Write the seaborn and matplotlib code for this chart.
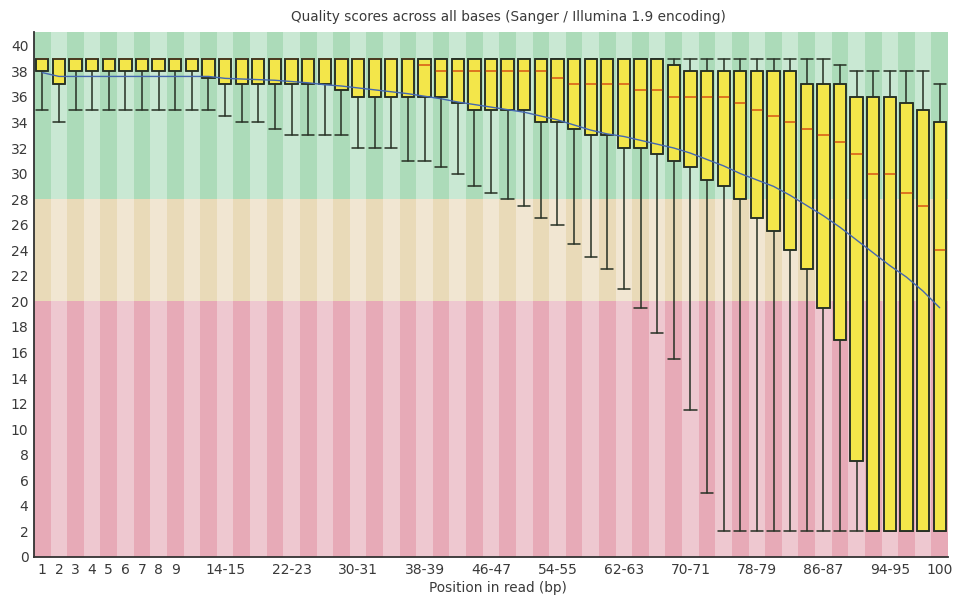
import numpy as np
import matplotlib
matplotlib.use("Agg")
import matplotlib.pyplot as plt
import seaborn as sns

# Read positions: single bases 1-9, then paired bins 10-11 ... 98-99, then 100
groups = [str(i) for i in range(1, 10)] + [f"{s}-{s + 1}" for s in range(10, 100, 2)] + ["100"]

tick_labels = ["1", "2", "3", "4", "5", "6", "7", "8", "9", "14-15", "22-23", "30-31",
               "38-39", "46-47", "54-55", "62-63", "70-71", "78-79", "86-87", "94-95", "100"]

# Phred quality statistics per position
upper_quartile = [39, 39, 39, 39, 39, 39, 39, 39, 39, 39, 39,
                  39, 39, 39, 39, 39, 39, 39, 39, 39, 39, 39,
                  39, 39, 39, 39, 39, 39, 39, 39, 39, 39, 39,
                  39, 39, 39, 39, 39, 38.5, 38, 38, 38, 38, 38,
                  38, 38, 37, 37, 37, 36, 36, 36, 35.5, 35, 34]

lower_quartile = [38, 37, 38, 38, 38, 38, 38, 38, 38, 38, 37.5,
                  37, 37, 37, 37, 37, 37, 37, 36.5, 36, 36, 36,
                  36, 36, 36, 35.5, 35, 35, 35, 35, 34, 34, 33.5,
                  33, 33, 32, 32, 31.5, 31, 30.5, 29.5, 29, 28, 26.5,
                  25.5, 24, 22.5, 19.5, 17, 7.5, 2, 2, 2, 2, 2]

median = [39, 39, 39, 39, 39, 39, 39, 39, 39, 39, 39,
          39, 39, 39, 39, 39, 39, 39, 39, 39, 39, 39,
          39, 38.5, 38, 38, 38, 38, 38, 38, 38, 37.5, 37,
          37, 37, 37, 36.5, 36.5, 36, 36, 36, 36, 35.5, 35,
          34.5, 34, 33.5, 33, 32.5, 31.5, 30, 30, 28.5, 27.5, 24]

percentile_90 = [39, 39, 39, 39, 39, 39, 39, 39, 39, 39, 39,
                 39, 39, 39, 39, 39, 39, 39, 39, 39, 39, 39,
                 39, 39, 39, 39, 39, 39, 39, 39, 39, 39, 39,
                 39, 39, 39, 39, 39, 39, 39, 39, 39, 39, 39,
                 39, 39, 39, 39, 38.5, 38, 38, 38, 38, 38, 37]

percentile_10 = [35, 34, 35, 35, 35, 35, 35, 35, 35, 35, 35,
                 34.5, 34, 34, 33.5, 33, 33, 33, 33, 32, 32, 32,
                 31, 31, 30.5, 30, 29, 28.5, 28, 27.5, 26.5, 26, 24.5,
                 23.5, 22.5, 21, 19.5, 17.5, 15.5, 11.5, 5, 2, 2, 2,
                 2, 2, 2, 2, 2, 2, 2, 2, 2, 2, 2]

mean_quality = [37.9, 37.6, 37.6, 37.6, 37.6, 37.6, 37.6, 37.6, 37.6, 37.6, 37.6,
                37.45, 37.4, 37.35, 37.3, 37.2, 37.1, 36.95, 36.85, 36.7, 36.55, 36.4,
                36.25, 36.05, 35.85, 35.6, 35.4, 35.2, 35.0, 34.8, 34.5, 34.2, 33.8,
                33.4, 33.1, 32.9, 32.6, 32.3, 32.0, 31.6, 31.1, 30.6, 30.0, 29.5,
                29.0, 28.3, 27.5, 26.7, 25.8, 24.8, 23.8, 22.8, 21.9, 20.8, 19.5]

sns.set_theme(style="white")
plt.rcParams["font.family"] = ["DejaVu Sans"]
text_color = "#3a3a3a"

fig = plt.figure(figsize=(9.6, 5.99), dpi=100)
ax = fig.add_axes([34 / 960, 42 / 599, 914 / 960, (557 - 31.7) / 599])

n = len(groups)
x = np.arange(n)
y_top = 41.1

# Quality zones with alternating column shading
zones = [(0, 20, "#E7AAB7", "#EEC8D0"),
         (20, 28, "#E9DAB8", "#F1E6D2"),
         (28, y_top, "#ACDBB9", "#C9E8D3")]
for lo, hi, dark, light in zones:
    ax.bar(x, hi - lo, bottom=lo, width=1.0,
           color=[dark if i % 2 == 0 else light for i in x],
           linewidth=0, zorder=0)

stats = [dict(med=m, q1=a, q3=b, whislo=lo, whishi=hi, fliers=[], label=g)
         for g, m, a, b, lo, hi in zip(groups, median, lower_quartile, upper_quartile,
                                       percentile_10, percentile_90)]

line_dark = "#263024"
ax.bxp(stats, positions=x, widths=0.74, capwidths=0.74, patch_artist=True,
       showfliers=False, manage_ticks=False,
       boxprops=dict(facecolor="#F3E64A", edgecolor=line_dark, linewidth=1.1, zorder=3),
       whiskerprops=dict(color=line_dark, linewidth=1.1, zorder=2),
       capprops=dict(color=line_dark, linewidth=1.1, zorder=2),
       medianprops=dict(color="#DB6A1C", linewidth=1.3, zorder=4))
# box outlines redrawn above the median lines
ax.bxp(stats, positions=x, widths=0.74, patch_artist=True, showfliers=False,
       showcaps=False, manage_ticks=False,
       boxprops=dict(facecolor="none", edgecolor=line_dark, linewidth=1.1, zorder=5),
       whiskerprops=dict(linewidth=0),
       medianprops=dict(linewidth=0))

sns.lineplot(x=x, y=mean_quality, ax=ax, color="#4467B0", linewidth=1.0, zorder=6)

ax.set_xlim(-0.5, n - 0.5)
ax.set_ylim(0, y_top)
ax.set_xticks([groups.index(t) for t in tick_labels], tick_labels)
ax.set_yticks(range(0, 41, 2))
ax.tick_params(axis="both", length=0, labelsize=10, colors=text_color)
ax.tick_params(axis="x", pad=4)
ax.tick_params(axis="y", pad=4)
for side in ("top", "right"):
    ax.spines[side].set_visible(False)
for side in ("left", "bottom"):
    ax.spines[side].set_color("#333333")
    ax.spines[side].set_linewidth(1.3)

fig.text(508 / 960, 1 - 17 / 599,
         "Quality scores across all bases (Sanger / Illumina 1.9 encoding)",
         ha="center", va="center", fontsize=9.8, color=text_color)
fig.text(498 / 960, 1 - 588 / 599, "Position in read (bp)",
         ha="center", va="center", fontsize=9.8, color=text_color)

fig.savefig("out.png", dpi=100)
